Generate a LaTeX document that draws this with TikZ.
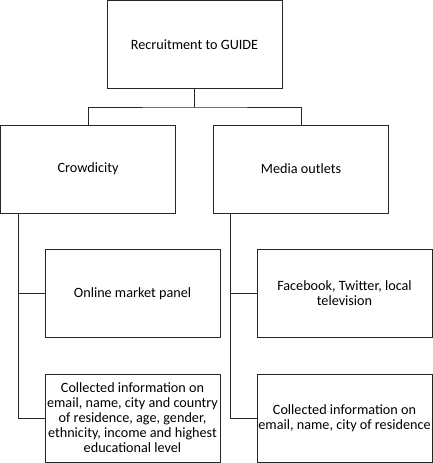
\documentclass[tikz,border=0pt]{standalone}
\usepackage{fontspec}
\setmainfont{Carlito}
\begin{document}
\begin{tikzpicture}[x=1pt,y=-1pt,
  box/.style={draw=black!85,line width=0.9pt,rectangle,minimum width=175pt,minimum height=88pt,
    inner sep=0pt,align=center,font=\fontsize{14.2}{15}\selectfont},
  conn/.style={draw=black!85,line width=0.9pt}]
\useasboundingbox (0,0) rectangle (433,463);
\node[box] (top) at (194.5,44.5) {Recruitment to GUIDE};
\node[box] (crowd) at (88,169) {Crowdicity};
\node[box] (media) at (301,169) {Media outlets};
\node[box] (panel) at (132.5,293.5) {Online market panel};
\node[box] (info1) at (132.5,418) {Collected information on\\email, name, city and country\\of residence, age, gender,\\ethnicity, income and highest\\educational level};
\node[box] (fb) at (344.5,293.5) {Facebook, Twitter, local\\television};
\node[box] (info2) at (344.5,418) {Collected information on\\email, name, city of residence};
\coordinate (mid) at (194.5,107);
\draw[conn] (top.south) -- (mid);
\draw[conn] (crowd.north) |- (mid) -| (media.north);
\coordinate (lx) at (18,213);
\coordinate (rx) at (230,213);
\draw[conn] (lx) |- (info1.west);
\draw[conn] (panel.west) -- (18,293.5);
\draw[conn] (rx) |- (info2.west);
\draw[conn] (fb.west) -- (230,293.5);
\end{tikzpicture}
\end{document}
